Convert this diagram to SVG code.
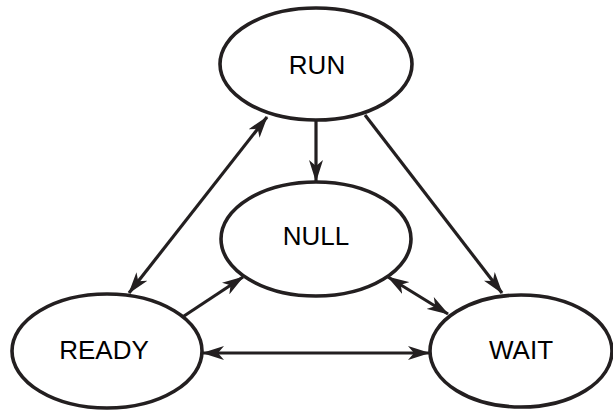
<svg xmlns="http://www.w3.org/2000/svg" width="613" height="410" viewBox="0 0 613 410">
<defs>
<style>
.node ellipse{fill:#fff;stroke:#231f20;stroke-width:3.6}
.node text{font-family:"Liberation Sans",Arial,sans-serif;font-size:26px;fill:#000;text-anchor:middle}
.edge{stroke:#231f20;stroke-width:3.2;fill:none}
</style>
<marker id="ah" markerUnits="userSpaceOnUse" markerWidth="22" markerHeight="14" refX="21" refY="7" orient="auto-start-reverse" viewBox="0 0 22 14">
<path d="M0,0 L22,7 L0,14 L6,7 z" fill="#231f20"/>
</marker>
</defs>
<g id="connectors">
<line class="edge" x1="316" y1="121" x2="316" y2="181" marker-end="url(#ah)"/>
<line class="edge" x1="129" y1="293" x2="267" y2="117" marker-start="url(#ah)" marker-end="url(#ah)"/>
<line class="edge" x1="365" y1="115" x2="502" y2="293" marker-end="url(#ah)"/>
<line class="edge" x1="181" y1="318" x2="243" y2="277" marker-end="url(#ah)"/>
<line class="edge" x1="388" y1="277" x2="448" y2="314" marker-start="url(#ah)" marker-end="url(#ah)"/>
<line class="edge" x1="203" y1="353" x2="429" y2="353" marker-start="url(#ah)" marker-end="url(#ah)"/>
</g>
<g id="RUN" class="node"><ellipse cx="316" cy="64" rx="96" ry="56"/><text x="317" y="74">RUN</text></g>
<g id="NULL" class="node"><ellipse cx="316" cy="239" rx="95" ry="57"/><text x="316" y="245">NULL</text></g>
<g id="READY" class="node"><ellipse cx="107" cy="351" rx="95" ry="57"/><text x="104" y="359">READY</text></g>
<g id="WAIT" class="node"><ellipse cx="521" cy="351" rx="91" ry="56"/><text x="521" y="359">WAIT</text></g>
</svg>
